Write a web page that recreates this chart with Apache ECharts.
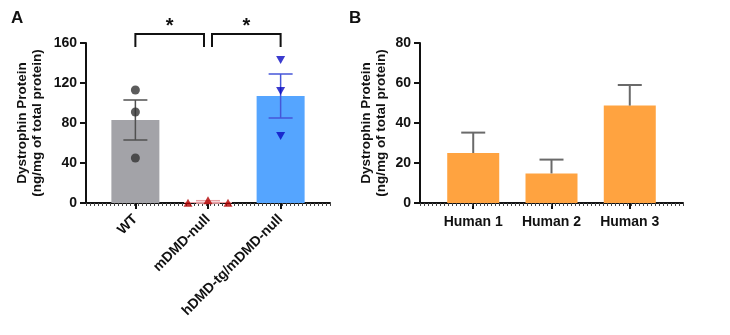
<!DOCTYPE html>
<html>
<head>
<meta charset="utf-8">
<script src="https://cdn.jsdelivr.net/npm/echarts@6/dist/echarts.min.js"></script>
<style>
  html, body { margin: 0; padding: 0; background: #fff; }
  #chart { width: 730px; height: 335px; }
</style>
</head>
<body>
<div id="chart"></div>
<script>
// ---- Panel A: mouse muscle dystrophin (mean ± SEM with individual animals) ----
const categoriesA = ['WT', 'mDMD-null', 'hDMD-tg/mDMD-null'];
const meansA = [83, 1.1, 107];
const semA = [20, 1.2, 22];
const wtValues = [113, 91, 45];
const mdmdValues = [0.3, 2.8, 0.3];
const hdmdValues = [143, 112, 67];
const ticksA = [0, 40, 80, 120, 160];
// pairs of groups compared, with their significance mark
const comparisonsA = [[0, 1, '*'], [1, 2, '*']];

// ---- Panel B: human samples (mean + SEM) ----
const categoriesB = ['Human 1', 'Human 2', 'Human 3'];
const meansB = [25, 14.8, 48.7];
const semB = [10.2, 6.9, 10.3];
const ticksB = [0, 20, 40, 60, 80];

const FONT = "'Liberation Sans', Arial, Helvetica, sans-serif";
const barColorsA = ['#a3a3a8', '#eaa3a6', '#55a5ff'];
const errColorsA = ['#505050', '#e8a0a4', '#4656d8'];
const mdmdJitter = [-20, 0, 20];

const chart = echarts.init(document.getElementById('chart'), null, { renderer: 'canvas' });

// Draws a vertical error bar with a cap; lower cap only when the 4th value is set
function errorBarRender(capHalf, lineWidth) {
  return function (params, api) {
    const x = api.value(0);
    const lo = api.value(1);
    const hi = api.value(2);
    const pTop = api.coord([x, hi]);
    const pBot = api.coord([x, lo]);
    const style = { stroke: api.visual('color'), lineWidth: lineWidth, fill: null };
    const children = [
      { type: 'line', shape: { x1: pTop[0], y1: pTop[1], x2: pBot[0], y2: pBot[1] }, style: style },
      { type: 'line', shape: { x1: pTop[0] - capHalf, y1: pTop[1], x2: pTop[0] + capHalf, y2: pTop[1] }, style: style }
    ];
    if (api.value(3)) {
      children.push({ type: 'line', shape: { x1: pBot[0] - capHalf, y1: pBot[1], x2: pBot[0] + capHalf, y2: pBot[1] }, style: style });
    }
    return { type: 'group', children: children };
  };
}

// Significance brackets between two groups
function bracketRender(params, api) {
  const a = api.value(0), b = api.value(1);
  const top = 169, leg = 156, gap = 4;
  const pa = api.coord([a, top]);
  const pb = api.coord([b, top]);
  const legY = api.coord([a, leg])[1];
  const xa = a === 1 ? pa[0] + gap : pa[0];
  const xb = b === 1 ? pb[0] - gap : pb[0];
  return {
    type: 'group',
    children: [
      { type: 'polyline', shape: { points: [[xa, legY], [xa, pa[1]], [xb, pa[1]], [xb, legY]] },
        style: { stroke: '#111', lineWidth: 2, fill: null } },
      { type: 'text', x: (xa + xb) / 2, y: pa[1] + 2,
        style: { text: comparisonsA[params.dataIndex][2], fill: '#111', font: 'bold 20px ' + FONT,
                 align: 'center', verticalAlign: 'bottom' } }
    ]
  };
}

function valueXAxis(gridIndex) {
  return {
    gridIndex: gridIndex, type: 'value', min: -0.68, max: 2.68, position: 'bottom',
    axisLine: { show: true, onZero: false, lineStyle: { color: '#111', width: 2 } },
    axisTick: { show: true, customValues: [0, 1, 2], length: 6, lineStyle: { color: '#111', width: 2 } },
    splitLine: { show: false }
  };
}

// fine ruler ticks along the bottom axis
function rulerAxis(gridIndex, count) {
  return {
    gridIndex: gridIndex, type: 'value', min: 0, max: count, interval: 1, position: 'bottom',
    axisLine: { show: false, onZero: false },
    axisTick: { show: true, length: 3, lineStyle: { color: '#444', width: 1 } },
    axisLabel: { show: false }, splitLine: { show: false }
  };
}

const xA = valueXAxis(0);
xA.axisLabel = {
  customValues: [0, 1, 2], rotate: 45, margin: 14,
  formatter: v => categoriesA[Math.round(v)],
  fontFamily: FONT, fontWeight: 'bold', fontSize: 14, color: '#111'
};
const xB = valueXAxis(1);
xB.axisLabel = {
  customValues: [0, 1, 2], margin: 12,
  formatter: v => categoriesB[Math.round(v)],
  fontFamily: FONT, fontWeight: 'bold', fontSize: 14, color: '#111'
};

function yAxisFor(gridIndex, ticks, gap) {
  return {
    gridIndex: gridIndex, type: 'value', min: ticks[0], max: ticks[ticks.length - 1],
    interval: ticks[1] - ticks[0],
    name: 'Dystrophin Protein\n(ng/mg of total protein)',
    nameLocation: 'middle', nameGap: gap, nameRotate: 90,
    nameTextStyle: { fontFamily: FONT, fontWeight: 'bold', fontSize: 13.5, color: '#111',
                     lineHeight: 15, verticalAlign: 'middle', align: 'center' },
    axisLine: { show: true, onZero: false, lineStyle: { color: '#111', width: 2 } },
    axisTick: { show: true, length: 6, lineStyle: { color: '#111', width: 2 } },
    axisLabel: { margin: 9, fontFamily: FONT, fontWeight: 'bold', fontSize: 14, color: '#111' },
    splitLine: { show: false }
  };
}

const option = {
  animation: false,
  backgroundColor: '#fff',
  grid: [
    { left: 86, top: 43, width: 244, height: 160 },
    { left: 420, top: 43, width: 263, height: 160 }
  ],
  xAxis: [xA, xB, rulerAxis(0, 61), rulerAxis(1, 66)],
  yAxis: [yAxisFor(0, ticksA, 56), yAxisFor(1, ticksB, 46)],
  graphic: [
    { type: 'text', left: 11, top: 10, style: { text: 'A', font: 'bold 17px ' + FONT, fill: '#111' } },
    { type: 'text', left: 349, top: 10, style: { text: 'B', font: 'bold 17px ' + FONT, fill: '#111' } }
  ],
  series: [
    // Panel A bars
    {
      type: 'bar', xAxisIndex: 0, yAxisIndex: 0, barWidth: 48, z: 2,
      data: meansA.map((v, i) => ({ value: [i, v], itemStyle: { color: barColorsA[i] } }))
    },
    // Panel A error bars (mean ± SEM)
    {
      type: 'custom', xAxisIndex: 0, yAxisIndex: 0, z: 3,
      renderItem: errorBarRender(12, 1.5),
      data: meansA.map((v, i) => ({ value: [i, v - semA[i], v + semA[i], 1], itemStyle: { color: errColorsA[i] } }))
    },
    // WT animals
    {
      type: 'scatter', xAxisIndex: 0, yAxisIndex: 0, z: 4,
      symbol: 'circle', symbolSize: 9, itemStyle: { color: '#333' },
      data: wtValues.map(v => [0, v])
    },
    // mDMD-null animals (spread sideways so they do not overlap)
    {
      type: 'scatter', xAxisIndex: 0, yAxisIndex: 0, z: 4,
      symbol: 'triangle', symbolSize: [9, 8], itemStyle: { color: '#b30000' },
      data: mdmdValues.map((v, i) => ({ value: [1, v], symbolOffset: [mdmdJitter[i], 0] }))
    },
    // hDMD-tg/mDMD-null animals
    {
      type: 'scatter', xAxisIndex: 0, yAxisIndex: 0, z: 4,
      symbol: 'triangle', symbolRotate: 180, symbolSize: [9, 8], itemStyle: { color: '#0a0ac2' },
      data: hdmdValues.map(v => [2, v])
    },
    // significance brackets
    {
      type: 'custom', xAxisIndex: 0, yAxisIndex: 0, z: 5, clip: false,
      renderItem: bracketRender,
      data: comparisonsA.map(c => [c[0], c[1]])
    },
    // Panel B bars
    {
      type: 'bar', xAxisIndex: 1, yAxisIndex: 1, barWidth: 52, z: 2,
      itemStyle: { color: '#ffa340' },
      data: meansB.map((v, i) => [i, v])
    },
    // Panel B error bars (upper SEM only)
    {
      type: 'custom', xAxisIndex: 1, yAxisIndex: 1, z: 3,
      renderItem: errorBarRender(12, 2),
      itemStyle: { color: '#6a6a6a' },
      data: meansB.map((v, i) => [i, v, v + semB[i], 0])
    }
  ]
};

chart.setOption(option);
</script>
</body>
</html>
